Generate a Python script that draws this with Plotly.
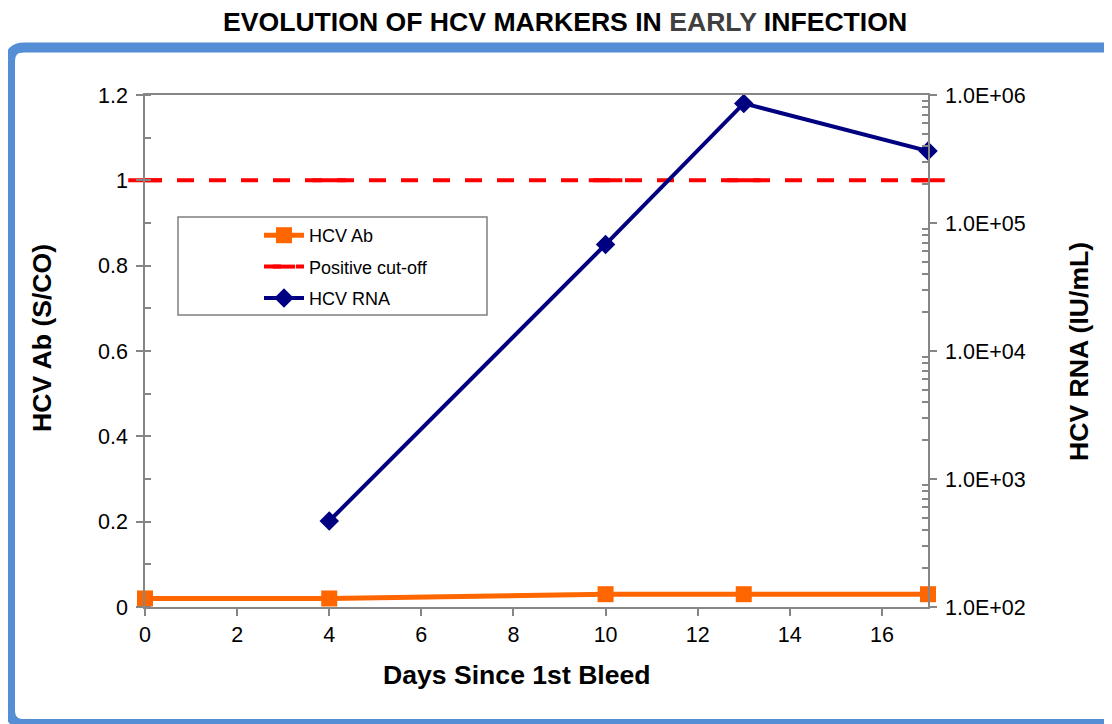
import plotly.graph_objects as go

# ---- data ----
days = [0, 4, 10, 13, 17]
hcv_ab = [0.02, 0.02, 0.03, 0.03, 0.03]
cutoff = [1, 1, 1, 1, 1]
rna_days = [4, 10, 13, 17]
hcv_rna = [470, 68000, 860000, 365000]
right_tickvals = [1e2, 1e3, 1e4, 1e5, 1e6]
right_ticktext = ["1.0E+02", "1.0E+03", "1.0E+04", "1.0E+05", "1.0E+06"]

W, H = 1112, 724
OFF = 8  # page body margin
L, R, T, B = 145, 928, 95, 607

def px(x):
    return (x - L) / (R - L)

def py(y):
    return (B - y) / (B - T)

FONT = "Liberation Sans, Arial, sans-serif"
AXC = "#868686"
BOLD = 26.6
TICK = 21.5

fig = go.Figure()
fig.add_trace(go.Scatter(
    x=days, y=hcv_ab, name="HCV Ab", mode="lines+markers", legendgroup="a",
    line=dict(color="#FF6600", width=5), cliponaxis=False,
    marker=dict(symbol="square", size=16, color="#FF6600"),
))
fig.add_trace(go.Scatter(
    x=days, y=cutoff, name="Positive cut-off", mode="lines+markers", legendgroup="b",
    line=dict(color="#FF0000", width=4, dash="17px,15px"), cliponaxis=False,
    marker=dict(symbol="line-ew", size=24, line=dict(color="#FF0000", width=4)),
))
fig.add_trace(go.Scatter(
    x=rna_days, y=hcv_rna, name="HCV RNA", mode="lines+markers", yaxis="y2",
    legendgroup="c", cliponaxis=False,
    line=dict(color="#000080", width=4),
    marker=dict(symbol="diamond", size=15, color="#000080"),
))

# blue frame with rounded corners on the left
xl, xrt = px(10), px(1130)
yt, ybt = py(47.5), py(724)
frame = (f"M {xrt},{ybt} L {px(24)},{ybt} Q {xl},{ybt} {xl},{py(710)} "
         f"L {xl},{py(61)} Q {xl},{yt} {px(24)},{yt} L {xrt},{yt}")

fig.update_layout(
    width=W - OFF, height=H - OFF,
    margin=dict(l=L - OFF, r=W - R, t=T - OFF, b=H - B),
    plot_bgcolor="white", paper_bgcolor="white",
    font=dict(family=FONT, color="black", size=TICK),
    showlegend=True,
    legend=dict(
        x=px(259), y=py(217), xanchor="left", yanchor="top",
        bgcolor="rgba(0,0,0,0)", borderwidth=0,
        font=dict(family=FONT, size=18, color="black"),
        itemwidth=40, tracegroupgap=5,
    ),
    xaxis=dict(
        range=[0, 17], dtick=2, tick0=0,
        showline=True, linecolor=AXC, linewidth=1.5, mirror=True,
        ticks="outside", ticklen=7, tickcolor=AXC, tickwidth=1.5,
        showgrid=False, zeroline=False,
        tickfont=dict(size=TICK),
    ),
    yaxis=dict(
        range=[0, 1.2], dtick=0.2, tick0=0,
        showline=True, linecolor=AXC, linewidth=1.5,
        ticks="outside", ticklen=7, tickcolor=AXC, tickwidth=1.5,
        minor=dict(dtick=0.1, ticks="inside", ticklen=6, tickcolor=AXC, tickwidth=1.5),
        showgrid=False, zeroline=False,
        tickfont=dict(size=TICK), ticklabelstandoff=4,
    ),
    yaxis2=dict(
        type="log", range=[2, 6], overlaying="y", side="right",
        tickmode="array", tickvals=right_tickvals, ticktext=right_ticktext,
        showline=True, linecolor=AXC, linewidth=1.5,
        ticks="outside", ticklen=7, tickcolor=AXC, tickwidth=1.5,
        minor=dict(tickmode="array",
                   tickvals=[m * 10 ** e for e in range(2, 6) for m in range(2, 10)],
                   ticks="inside", ticklen=6, tickcolor=AXC, tickwidth=1.5),
        showgrid=False, zeroline=False,
        tickfont=dict(size=TICK), ticklabelstandoff=4,
    ),
    shapes=[
        dict(type="rect", xref="paper", yref="paper",
             x0=px(178), x1=px(487), y0=py(217), y1=py(315),
             line=dict(color="#7F7F7F", width=1.5), fillcolor="rgba(0,0,0,0)",
             layer="below"),
        dict(type="path", xref="paper", yref="paper", path=frame,
             line=dict(color="#558ED5", width=10)),
    ],
    annotations=[
        dict(xref="paper", yref="paper", x=px(565), y=py(22),
             text="EVOLUTION OF HCV MARKERS IN <span style='color:#404040'>EARLY</span> INFECTION",
             showarrow=False, font=dict(size=BOLD, family=FONT, weight="bold", color="black"),
             xanchor="center", yanchor="middle"),
        dict(xref="paper", yref="paper", x=px(517), y=py(675),
             text="Days Since 1st Bleed", showarrow=False,
             font=dict(size=BOLD, family=FONT, weight="bold"),
             xanchor="center", yanchor="middle"),
        dict(xref="paper", yref="paper", x=px(42), y=py(338),
             text="HCV Ab (S/CO)", showarrow=False, textangle=-90,
             font=dict(size=BOLD, family=FONT, weight="bold"),
             xanchor="center", yanchor="middle"),
        dict(xref="paper", yref="paper", x=px(1079), y=py(352),
             text="HCV RNA (IU/mL)", showarrow=False, textangle=-90,
             font=dict(size=BOLD, family=FONT, weight="bold"),
             xanchor="center", yanchor="middle"),
    ],
)

fig.write_html("out.html")
